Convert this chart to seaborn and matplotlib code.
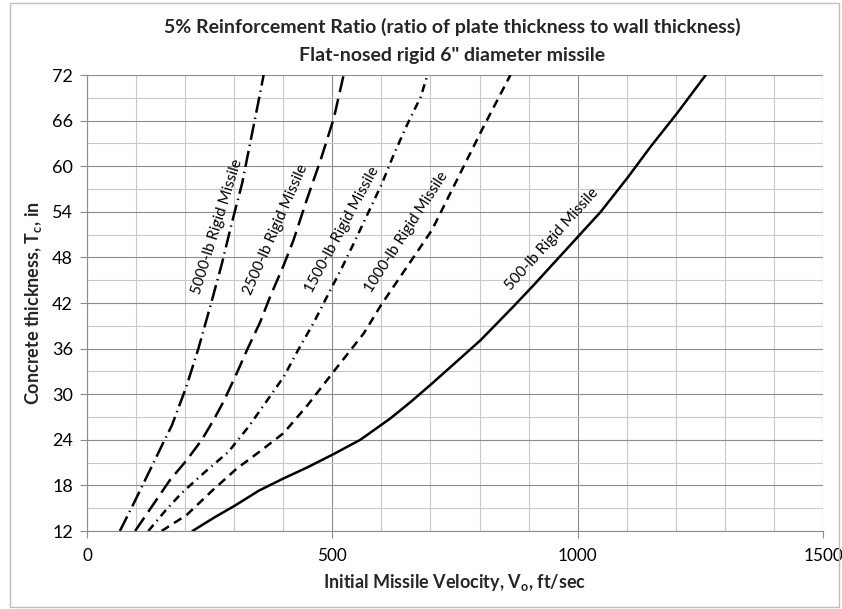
import matplotlib
matplotlib.use("Agg")
import matplotlib.pyplot as plt
import seaborn as sns
from matplotlib.patches import Rectangle
from matplotlib.ticker import MultipleLocator

# ---------------- data ----------------
v_500 = [215, 260, 303, 350, 400, 450, 502, 557, 618, 660, 703, 750, 802, 870, 911, 979, 1047, 1103, 1149, 1203, 1261]
t_500 = [12, 13.8, 15.4, 17.3, 18.9, 20.4, 22.1, 24.0, 26.8, 29.0, 31.4, 34.1, 37.1, 41.6, 44.4, 49.2, 54.0, 58.6, 62.6, 67, 72]

v_1000 = [152, 203, 255, 305, 355, 401, 450, 503, 564, 600, 660, 703, 754, 805, 863]
t_1000 = [12, 14.1, 17.3, 20.2, 22.6, 24.9, 28.6, 33, 38, 41.8, 47.5, 51.6, 58.2, 64.8, 72]

v_1500 = [125, 160, 193, 241, 288, 329, 363, 401, 431, 462, 492, 520, 547, 574, 601, 625, 652, 680, 694]
t_1500 = [12, 14.7, 17, 19.8, 22.4, 25.7, 28.8, 32.3, 35.9, 39.4, 43.2, 46.7, 50.3, 54, 57.7, 61.5, 65.4, 69.1, 72]

v_2500 = [98, 132, 169, 203, 234, 258, 278, 302, 326, 353, 373, 401, 421, 448, 476, 503, 523]
t_2500 = [12, 15.2, 18.7, 21.3, 24, 26.6, 29, 32.3, 35.8, 39.5, 42.8, 47.0, 50.3, 55.6, 60.8, 66.3, 72]

v_5000 = [67, 95, 132, 150, 173, 202, 227, 251, 275, 295, 316, 333, 350, 360]
t_5000 = [12, 15.6, 20.5, 22.9, 25.9, 30.9, 36, 41.5, 47.2, 52.5, 57.7, 63.2, 68.7, 72]

labels = ["5000-lb Rigid Missile", "2500-lb Rigid Missile", "1500-lb Rigid Missile",
          "1000-lb Rigid Missile", "500-lb Rigid Missile"]
label_x = [265, 384, 521, 651, 947]
label_y = [52.1, 51.7, 51.6, 51.3, 50.4]
label_rot = [72.7, 66.4, 61.7, 57.0, 48.0]

# ---------------- style ----------------
sns.set_theme(style="white")
plt.rcParams['font.family'] = ['Lato', 'DejaVu Sans']
plt.rcParams['mathtext.default'] = 'regular'

fig = plt.figure(figsize=(8.42, 6.09), dpi=100)
ax = fig.add_axes([87 / 842, 1 - 531 / 609, 736 / 842, 456 / 609])

lw = 1.8
curves = [
    (v_5000, t_5000, (0, (6.5, 2.0, 0.55, 2.0))),
    (v_2500, t_2500, (0, (6.5, 2.8))),
    (v_1500, t_1500, (0, (3.2, 2.0, 0.55, 2.0))),
    (v_1000, t_1000, (0, (3.5, 2.4))),
    (v_500, t_500, '-'),
]
for xs, ys, ls in curves:
    sns.lineplot(x=xs, y=ys, ax=ax, color='black', linewidth=lw)
    ax.lines[-1].set_linestyle(ls)

for txt, lx, ly, rot in zip(labels, label_x, label_y, label_rot):
    ax.text(lx, ly, txt, rotation=rot, rotation_mode='anchor', ha='center', va='center',
            fontsize=11, color='black')

ax.set_xlim(0, 1500)
ax.set_ylim(12, 72)
ax.xaxis.set_major_locator(MultipleLocator(500))
ax.xaxis.set_minor_locator(MultipleLocator(100))
ax.yaxis.set_major_locator(MultipleLocator(6))
ax.yaxis.set_minor_locator(MultipleLocator(3))

ax.grid(which='major', color='#8c8c8c', linewidth=0.8)
ax.grid(which='minor', color='#c8c8c8', linewidth=0.8)
ax.set_axisbelow(True)
for s in ['top', 'right']:
    ax.spines[s].set_visible(False)
for s in ['left', 'bottom']:
    ax.spines[s].set_color('#8c8c8c')
    ax.spines[s].set_linewidth(0.8)

ax.tick_params(which='major', direction='out', length=5, width=0.8, color='#8c8c8c',
               labelsize=13, labelcolor='black', bottom=True, left=True)
ax.tick_params(axis='x', pad=7, labelsize=12.3)
ax.tick_params(axis='y', pad=5)
ax.tick_params(which='minor', length=0)

ax.set_xlabel(r"Initial Missile Velocity, V$_o$, ft/sec", fontsize=13, fontweight='bold', labelpad=6)
ax.set_ylabel(r"Concrete thickness, T$_c$, in", fontsize=13, fontweight='bold', labelpad=6)

fig.text(452 / 842, 1 - 27 / 609, "5% Reinforcement Ratio (ratio of plate thickness to wall thickness)",
         ha='center', va='center', fontsize=14, fontweight='bold')
fig.text(452 / 842, 1 - 55 / 609, 'Flat-nosed rigid 6" diameter missile',
         ha='center', va='center', fontsize=14, fontweight='bold')

fig.patches.append(Rectangle((10 / 842, 2 / 609), 829 / 842, 604 / 609, transform=fig.transFigure,
                             fill=False, edgecolor='#bfbfbf', linewidth=1))

fig.savefig("out.png", dpi=100)
